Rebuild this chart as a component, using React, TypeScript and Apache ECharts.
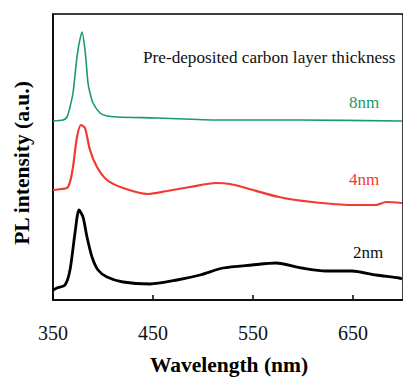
import React, { useEffect, useRef } from "react";
import * as echarts from "echarts";

// Wavelength (nm) and PL intensity (a.u., vertically offset) for each film
const wl8nm = [350, 360, 364, 367, 370, 372, 374, 376, 379, 382, 385, 387, 390, 397, 404, 414, 454, 516, 596, 699];
const pl8nm = [179, 180, 183, 193, 207, 225, 243, 256, 268, 250, 217, 207, 197, 187, 184, 183, 182, 180, 180, 179];

const wl4nm = [350, 358, 364, 367, 370, 374, 378, 382, 387, 394, 404, 420, 445, 464, 487, 513, 527, 543, 576, 609, 649, 673, 683, 699];
const pl4nm = [110, 111, 112, 118, 133, 163, 175, 172, 150, 133, 120, 112, 106, 109, 113, 117, 116, 112, 103, 98, 95, 95, 98, 97];

const wl2nm = [350, 354, 362, 367, 372, 376, 380, 384, 389, 395, 404, 420, 447, 474, 497, 520, 549, 573, 599, 623, 649, 673, 696, 699];
const pl2nm = [10, 12, 15, 30, 67, 90, 83, 63, 43, 30, 23, 18, 16, 20, 25, 32, 35, 37, 32, 29, 29, 25, 22, 21];

const xTicks = [350, 450, 550, 650];
const seriesNames = ["2nm", "4nm", "8nm"];
const seriesColors = ["#000000", "#f03a32", "#1a9a6c"];

export default function App() {
  const ref = useRef<HTMLDivElement>(null);
  useEffect(() => {
    if (!ref.current) return;
    const chart = echarts.init(ref.current, undefined, { renderer: "svg" });
    const pairs = (xs: number[], ys: number[]) => xs.map((x, i) => [x, ys[i]]);
    const serif = "Liberation Serif";
    chart.setOption({
      animation: false,
      backgroundColor: "#ffffff",
      textStyle: { fontFamily: serif },
      grid: {
        left: 53,
        top: 14,
        width: 351,
        height: 286,
        show: true,
        borderColor: "#000",
        borderWidth: 1.5,
        containLabel: false,
      },
      xAxis: {
        type: "value",
        min: 350,
        max: 700,
        axisLine: { show: true, lineStyle: { color: "#000", width: 1.5 } },
        axisTick: {
          show: true,
          inside: true,
          length: 5,
          customValues: xTicks,
          lineStyle: { color: "#000", width: 1.5 },
        },
        axisLabel: {
          show: true,
          customValues: xTicks,
          fontFamily: serif,
          fontWeight: "normal",
          fontSize: 20,
          color: "#111",
          margin: 23,
        },
        splitLine: { show: false },
      },
      yAxis: {
        type: "value",
        min: 0,
        max: 286,
        axisLine: { show: true, lineStyle: { color: "#000", width: 1.5 } },
        axisTick: { show: false },
        axisLabel: { show: false },
        splitLine: { show: false },
      },
      series: [
        { data: pairs(wl2nm, pl2nm) },
        { data: pairs(wl4nm, pl4nm) },
        { data: pairs(wl8nm, pl8nm) },
      ].map((s, i) => ({
        type: "line",
        name: seriesNames[i],
        data: s.data,
        showSymbol: false,
        smooth: 0.25,
        lineStyle: { color: seriesColors[i], width: i === 0 ? 2.8 : i === 1 ? 2.2 : 1.6 },
      })),
      graphic: [
        {
          type: "text",
          x: 143,
          y: 57,
          style: {
            text: "Pre-deposited carbon layer thickness",
            fontFamily: serif,
            fontWeight: "normal",
            fontSize: 17.2,
            fill: "#111",
            verticalAlign: "middle",
          },
        },
        {
          type: "text",
          x: 349,
          y: 102,
          style: { text: "8nm", fontFamily: serif, fontWeight: "normal", fontSize: 17, fill: "#1a9a6c", verticalAlign: "middle" },
        },
        {
          type: "text",
          x: 349,
          y: 179,
          style: { text: "4nm", fontFamily: serif, fontWeight: "normal", fontSize: 17, fill: "#f03a32", verticalAlign: "middle" },
        },
        {
          type: "text",
          x: 353,
          y: 252,
          style: { text: "2nm", fontFamily: serif, fontWeight: "normal", fontSize: 17, fill: "#111", verticalAlign: "middle" },
        },
        {
          type: "text",
          x: 229,
          y: 365,
          style: {
            text: "Wavelength (nm)",
            fontFamily: serif,
            fontWeight: "bold",
            fontSize: 21.5,
            fill: "#000",
            align: "center",
            verticalAlign: "middle",
          },
        },
        {
          type: "text",
          x: 22,
          y: 163,
          rotation: Math.PI / 2,
          style: {
            text: "PL intensity (a.u.)",
            fontFamily: serif,
            fontWeight: "bold",
            fontSize: 21.5,
            fill: "#000",
            align: "center",
            verticalAlign: "middle",
          },
        },
      ],
    });
    return () => chart.dispose();
  }, []);
  return (
    <div
      ref={ref}
      style={{ position: "absolute", left: 0, top: 0, width: 403, height: 377, background: "#fff" }}
    />
  );
}
